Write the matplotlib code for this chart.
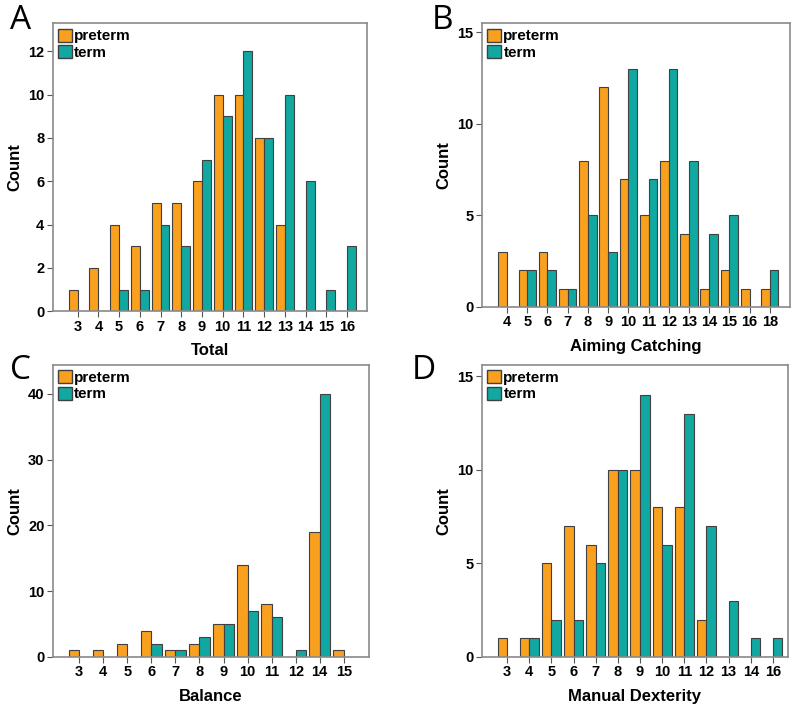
import matplotlib
matplotlib.use('Agg')
import matplotlib.pyplot as plt
import numpy as np
from matplotlib.patches import Patch

plt.rcParams['font.family'] = ['Liberation Sans', 'DejaVu Sans']

# panel A - Total
total_cats = ['3', '4', '5', '6', '7', '8', '9', '10', '11', '12', '13', '14', '15', '16']
total_pre = [1, 2, 4, 3, 5, 5, 6, 10, 10, 8, 4, 0, 0, 0]
total_term = [0, 0, 1, 1, 4, 3, 7, 9, 12, 8, 10, 6, 1, 3]

# panel B - Aiming Catching
aim_cats = ['4', '5', '6', '7', '8', '9', '10', '11', '12', '13', '14', '15', '16', '18']
aim_pre = [3, 2, 3, 1, 8, 12, 7, 5, 8, 4, 1, 2, 1, 1]
aim_term = [0, 2, 2, 1, 5, 3, 13, 7, 13, 8, 4, 5, 0, 2]

# panel C - Balance
bal_cats = ['3', '4', '5', '6', '7', '8', '9', '10', '11', '12', '14', '15']
bal_pre = [1, 1, 2, 4, 1, 2, 5, 14, 8, 0, 19, 1]
bal_term = [0, 0, 0, 2, 1, 3, 5, 7, 6, 1, 40, 0]

# panel D - Manual Dexterity
md_cats = ['3', '4', '5', '6', '7', '8', '9', '10', '11', '12', '13', '14', '16']
md_pre = [1, 1, 5, 7, 6, 10, 10, 8, 8, 2, 0, 0, 0]
md_term = [0, 1, 2, 2, 5, 10, 14, 6, 13, 7, 3, 1, 1]

orange = '#F9A01E'
teal = '#10A8A0'
edge = '#404040'

fig = plt.figure(figsize=(8, 7.04), dpi=100)

panels = [
    ('A', [0.066, 0.558, 0.393, 0.409], total_cats, total_pre, total_term, 'Total',
     [0, 2, 4, 6, 8, 10, 12], 13.3, (-1.2, 13.97)),
    ('B', [0.6025, 0.564, 0.385, 0.403], aim_cats, aim_pre, aim_term, 'Aiming Catching',
     [0, 5, 10, 15], 15.5, (-1.24, 14.0)),
    ('C', [0.066, 0.0668, 0.395, 0.415], bal_cats, bal_pre, bal_term, 'Balance',
     [0, 10, 20, 30, 40], 44.4, (-1.1, 12.04)),
    ('D', [0.6025, 0.0668, 0.3825, 0.415], md_cats, md_pre, md_term, 'Manual Dexterity',
     [0, 5, 10, 15], 15.6, (-1.13, 12.68)),
]

letter_pos = {'A': (0.012, 0.995), 'B': (0.54, 0.995), 'C': (0.012, 0.497), 'D': (0.515, 0.497)}

w = 0.43
for letter, rect, cats, pre, term, xlabel, yticks, ytop, xlim in panels:
    ax = fig.add_axes(rect)
    x = np.arange(len(cats))
    ax.bar(x - w / 2, pre, w, color=orange, edgecolor=edge, linewidth=0.8)
    ax.bar(x + w / 2, term, w, color=teal, edgecolor=edge, linewidth=0.8)
    ax.set_xticks(x)
    ax.set_xticklabels(cats, fontsize=10.5, fontweight='bold')
    ax.set_yticks(yticks)
    ax.set_yticklabels([str(t) for t in yticks], fontsize=10.5, fontweight='bold')
    ax.set_ylim(0, ytop)
    ax.set_xlim(*xlim)
    ax.set_xlabel(xlabel, fontsize=12, fontweight='bold', labelpad=7)
    ax.set_ylabel('Count', fontsize=12, fontweight='bold', labelpad=4)
    for s in ax.spines.values():
        s.set_color('#8a8a8a')
        s.set_linewidth(1.2)
    ax.tick_params(axis='both', length=4, width=0.8, color='#555555', pad=2)
    handles = [Patch(facecolor=orange, edgecolor=edge, label='preterm'),
               Patch(facecolor=teal, edgecolor=edge, label='term')]
    ax.legend(handles=handles, loc='upper left', frameon=False,
              handlelength=0.9, handleheight=0.95, handletextpad=0.15,
              labelspacing=0.1, borderaxespad=0.15, borderpad=0.2,
              prop={'weight': 'bold', 'size': 11})
    fx, fy = letter_pos[letter]
    fig.text(fx, fy, letter, fontsize=24, family='Open Sans', va='top', ha='left')

fig.savefig('out.png', dpi=100)
